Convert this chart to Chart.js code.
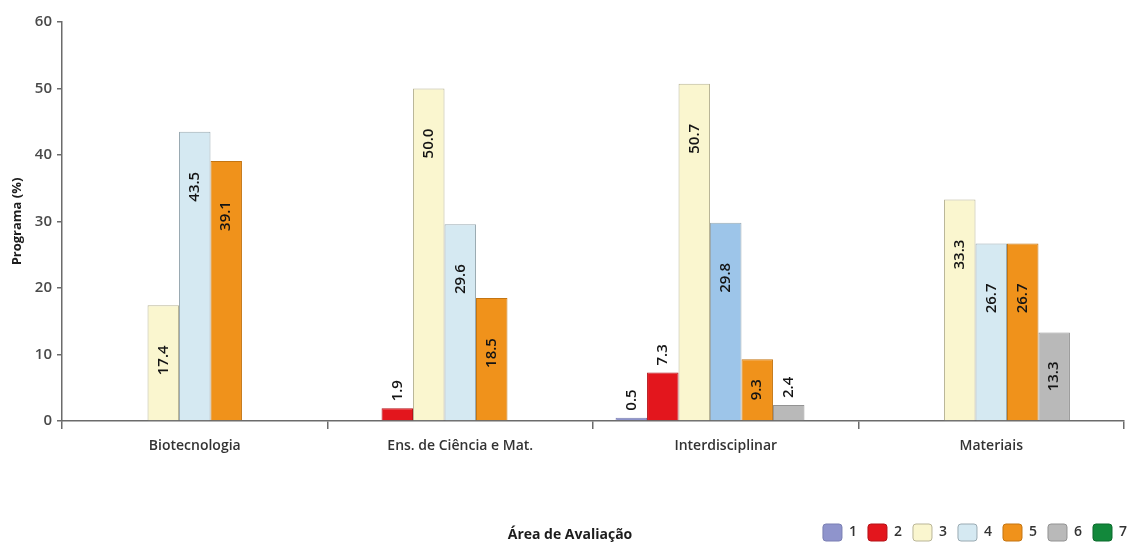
<!DOCTYPE html>
<html lang="pt">
<head>
<meta charset="utf-8">
<title>Programa (%) por Área de Avaliação</title>
<script src="https://cdn.jsdelivr.net/npm/chart.js@4.4.1/dist/chart.umd.min.js"></script>
<style>
  html, body { margin: 0; padding: 0; background: #ffffff; }
  #wrap { width: 1128px; height: 542px; position: relative; }
</style>
</head>
<body>
<div id="wrap"><canvas id="chart" width="1128" height="542"></canvas></div>
<script>
// Areas of evaluation (x categories)
const categories = ['Biotecnologia', 'Ens. de Ciência e Mat.', 'Interdisciplinar', 'Materiais'];

// Share of programmes (%) per grade, one array per grade 1..7
const grade1 = [null, null, 0.5, null];
const grade2 = [null, 1.9, 7.3, null];
const grade3 = [17.4, 50.0, 50.7, 33.3];
const grade4 = [43.5, 29.6, 29.8, 26.7];
const grade5 = [39.1, 18.5, 9.3, 26.7];
const grade6 = [null, null, 2.4, 13.3];
const grade7 = [null, null, null, null];

const gradeLabels = ['1', '2', '3', '4', '5', '6', '7'];
const yTicks = [0, 10, 20, 30, 40, 50, 60];

const FONT = "'Open Sans', 'DejaVu Sans', sans-serif";
const AXIS = '#6b6b6b';

const palette = ['#8f94cc', '#e3161d', '#faf6cf', '#d5e9f2', '#f0921b', '#b9b9b9', '#12883b'];
const borders = ['#7a7fb3', '#b51218', '#b9b597', '#9aaab2', '#c47512', '#939393', '#0b6a2c'];

const series = [grade1, grade2, grade3, grade4, grade5, grade6, grade7];

const datasets = series.map((values, i) => ({
  label: gradeLabels[i],
  data: values,
  // grade 4 in the interdisciplinary area is printed in a stronger blue
  backgroundColor: i === 3
    ? (ctx) => (ctx.type === 'data' && ctx.dataIndex === 2 ? '#9dc5e9' : palette[i])
    : palette[i],
  borderColor: borders[i],
  borderWidth: 1
}));

// Rotated value labels: inside the bar near its top, or just above short bars
const valueLabels = {
  id: 'valueLabels',
  afterDatasetsDraw(chart) {
    const ctx = chart.ctx;
    ctx.save();
    ctx.font = "600 15px " + FONT;
    ctx.fillStyle = '#141414';
    ctx.textAlign = 'center';
    ctx.textBaseline = 'middle';
    chart.data.datasets.forEach((ds, di) => {
      const meta = chart.getDatasetMeta(di);
      if (meta.hidden) return;
      meta.data.forEach((bar, idx) => {
        const v = ds.data[idx];
        if (v === null || v === undefined) return;
        const text = v.toFixed(1);
        const w = ctx.measureText(text).width;
        const h = bar.base - bar.y;
        let cy;
        if (v < 8) {
          cy = bar.y - 7 - w / 2;
        } else {
          cy = bar.y + Math.min(55, h / 2);
        }
        ctx.save();
        ctx.translate(bar.x, cy);
        ctx.rotate(-Math.PI / 2);
        ctx.fillText(text, 0, 0);
        ctx.restore();
      });
    });
    ctx.restore();
  }
};

// Horizontal axis title, sharing the row with the legend; legend nudged into that row
const axisTitle = {
  id: 'axisTitle',
  afterLayout(chart) {
    const lg = chart.legend;
    if (lg) {
      lg.top += 9; lg.bottom += 9;
      lg.left += 14; lg.right += 14;
    }
  },
  afterDraw(chart) {
    const ctx = chart.ctx;
    const area = chart.chartArea;
    ctx.save();
    ctx.font = "700 14px " + FONT;
    ctx.fillStyle = '#1c1c1c';
    ctx.textAlign = 'center';
    ctx.textBaseline = 'middle';
    ctx.fillText('Área de Avaliação', (area.left + area.right) / 2 - 23, 535);
    ctx.restore();
  }
};

new Chart(document.getElementById('chart'), {
  type: 'bar',
  data: { labels: categories, datasets },
  plugins: [valueLabels, axisTitle],
  options: {
    responsive: false,
    animation: false,
    layout: { padding: { top: 22, right: 4, left: 0, bottom: 0 } },
    datasets: {
      bar: { categoryPercentage: 0.83, barPercentage: 1.0 }
    },
    plugins: {
      tooltip: { enabled: false },
      legend: {
        position: 'bottom',
        align: 'end',
        labels: {
          boxWidth: 19,
          boxHeight: 17,
          padding: 11,
          useBorderRadius: true,
          borderRadius: 3,
          color: '#333333',
          font: { family: FONT, size: 14, weight: '600' }
        }
      }
    },
    scales: {
      x: {
        border: { display: true, color: AXIS, width: 1.5 },
        grid: {
          offset: true,
          drawOnChartArea: false,
          drawTicks: true,
          tickLength: 8,
          color: AXIS,
          lineWidth: 1.5
        },
        ticks: {
          color: '#333333',
          padding: 9,
          font: { family: FONT, size: 14, weight: '600' }
        },
        afterFit(scale) { scale.height = 83; }
      },
      y: {
        min: 0,
        max: 60,
        afterBuildTicks(scale) { scale.ticks = yTicks.map(v => ({ value: v })); },
        border: { display: true, color: AXIS, width: 1.5 },
        grid: {
          drawOnChartArea: false,
          drawTicks: true,
          tickLength: 5,
          color: AXIS,
          lineWidth: 1.5
        },
        ticks: {
          color: '#4a4a4a',
          padding: 5,
          font: { family: FONT, size: 15, weight: '600' }
        },
        title: {
          display: true,
          text: 'Programa (%)',
          color: '#1c1c1c',
          padding: { top: 9, bottom: 0 },
          font: { family: FONT, size: 13, weight: '700' }
        },
        afterFit(scale) { scale.width = 62; }
      }
    }
  }
});
</script>
</body>
</html>
